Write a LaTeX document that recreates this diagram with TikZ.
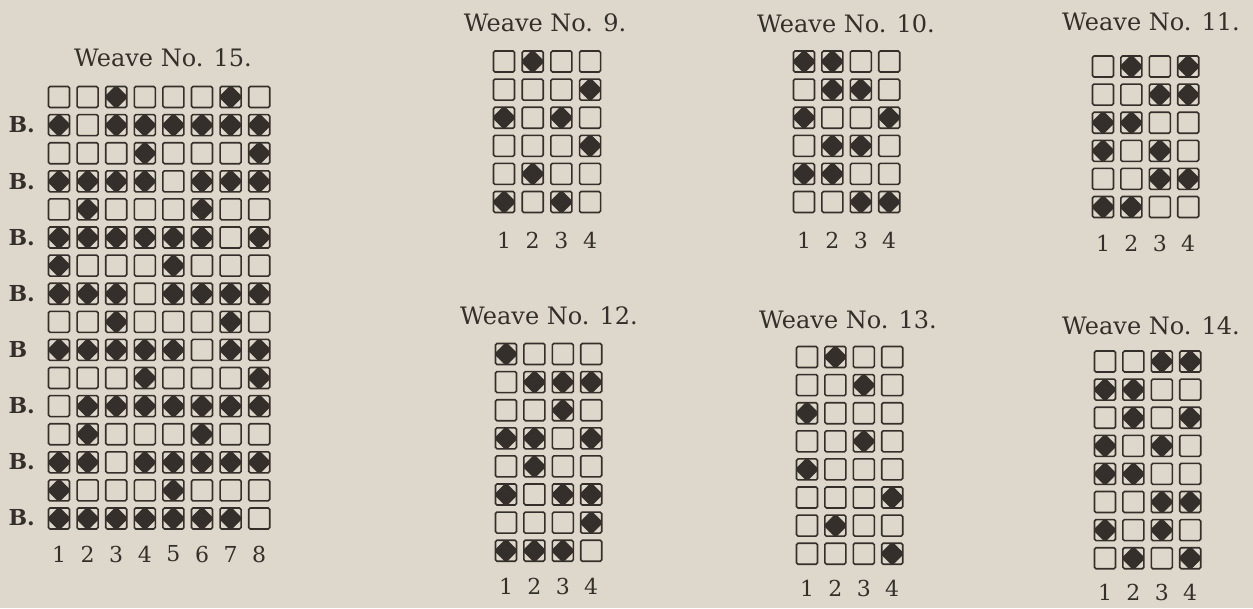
\documentclass[tikz,border=0pt]{standalone}
\usepackage{fontspec}
\setmainfont{DejaVu Serif}
\usepackage{xcolor}
\usepackage{tikz}
\usetikzlibrary{calc}
\definecolor{paper}{RGB}{222,216,204}
\definecolor{ink}{RGB}{52,47,42}
% one weave draft: name, first column x, first row y, column pitch, rows
\newcommand{\drawweave}[5]{%
  \foreach \row [count=\r] in {#5} {
    \foreach \v [count=\c] in \row {
      \ifnum\v=1
        \node[filled] (#1-\r-\c) at ({#2+(\c-1)*#4}, {#3+(\r-1)*28.1}) {};
      \else
        \node[cell] (#1-\r-\c) at ({#2+(\c-1)*#4}, {#3+(\r-1)*28.1}) {};
      \fi
    }
  }%
}

\begin{document}
\begin{tikzpicture}[
    x=1pt, y=-1pt,
    cell/.style={rectangle, draw=ink, line width=1.6pt, rounded corners=1.5pt,
                 minimum size=21pt, inner sep=0pt},
    filled/.style={cell, path picture={
        \fill[ink, sharp corners] (path picture bounding box.center) +(0,12) -- +(12,0) -- +(0,-12) -- +(-12,0) -- cycle;}},
    title/.style={font=\fontsize{24}{28}\selectfont, text=ink},
    num/.style={font=\fontsize{22}{26}\selectfont, text=ink},
    blabel/.style={font=\fontsize{22}{24}\selectfont\bfseries, text=ink, anchor=west}
]
    \fill[paper] (0,0) rectangle (1253,608);
    \useasboundingbox (0,0) rectangle (1253,608);

    % Weave No. 15
    \node[title] (t15) at (163,58) {Weave No. 15.};
    \drawweave{w15}{59}{97}{28.6}{
        {0,0,1,0,0,0,1,0},{1,0,1,1,1,1,1,1},{0,0,0,1,0,0,0,1},{1,1,1,1,0,1,1,1},
        {0,1,0,0,0,1,0,0},{1,1,1,1,1,1,0,1},{1,0,0,0,1,0,0,0},{1,1,1,0,1,1,1,1},
        {0,0,1,0,0,0,1,0},{1,1,1,1,1,0,1,1},{0,0,0,1,0,0,0,1},{0,1,1,1,1,1,1,1},
        {0,1,0,0,0,1,0,0},{1,1,0,1,1,1,1,1},{1,0,0,0,1,0,0,0},{1,1,1,1,1,1,1,0}}
    \foreach \r/\t in {2/B.,4/B.,6/B.,8/B.,10/B,12/B.,14/B.,16/B.}
        \node[blabel] (b\r) at (5, {97+(\r-1)*28.07}) {\t};
    \foreach \c in {1,...,8}
        \node[num] (w15-n\c) at ({59+(\c-1)*28.6}, 554) {\c};

    % Weave No. 9
    \node[title] (t9) at (545,23) {Weave No. 9.};
    \drawweave{w9}{504}{61.5}{28.7}{
        {0,1,0,0},{0,0,0,1},{1,0,1,0},{0,0,0,1},{0,1,0,0},{1,0,1,0}}
    \foreach \c in {1,...,4}
        \node[num] (w9-n\c) at ({504+(\c-1)*28.7}, 240) {\c};

    % Weave No. 10
    \node[title] (t10) at (846,24) {Weave No. 10.};
    \drawweave{w10}{804}{61.5}{28.4}{
        {1,1,0,0},{0,1,1,0},{1,0,0,1},{0,1,1,0},{1,1,0,0},{0,0,1,1}}
    \foreach \c in {1,...,4}
        \node[num] (w10-n\c) at ({804+(\c-1)*28.4}, 240) {\c};

    % Weave No. 11
    \node[title] (t11) at (1151,22) {Weave No. 11.};
    \drawweave{w11}{1103}{66.5}{28.4}{
        {0,1,0,1},{0,0,1,1},{1,1,0,0},{1,0,1,0},{0,0,1,1},{1,1,0,0}}
    \foreach \c in {1,...,4}
        \node[num] (w11-n\c) at ({1103+(\c-1)*28.4}, 243) {\c};

    % Weave No. 12
    \node[title] (t12) at (549,316) {Weave No. 12.};
    \drawweave{w12}{506}{354}{28.4}{
        {1,0,0,0},{0,1,1,1},{0,0,1,0},{1,1,0,1},
        {0,1,0,0},{1,0,1,1},{0,0,0,1},{1,1,1,0}}
    \foreach \c in {1,...,4}
        \node[num] (w12-n\c) at ({506+(\c-1)*28.4}, 586) {\c};

    % Weave No. 13
    \node[title] (t13) at (848,320) {Weave No. 13.};
    \drawweave{w13}{807}{357}{28.4}{
        {0,1,0,0},{0,0,1,0},{1,0,0,0},{0,0,1,0},
        {1,0,0,0},{0,0,0,1},{0,1,0,0},{0,0,0,1}}
    \foreach \c in {1,...,4}
        \node[num] (w13-n\c) at ({807+(\c-1)*28.4}, 588) {\c};

    % Weave No. 14
    \node[title] (t14) at (1151,326) {Weave No. 14.};
    \drawweave{w14}{1105}{361.5}{28.4}{
        {0,0,1,1},{1,1,0,0},{0,1,0,1},{1,0,1,0},
        {1,1,0,0},{0,0,1,1},{1,0,1,0},{0,1,0,1}}
    \foreach \c in {1,...,4}
        \node[num] (w14-n\c) at ({1105+(\c-1)*28.4}, 592) {\c};
\end{tikzpicture}
\end{document}
